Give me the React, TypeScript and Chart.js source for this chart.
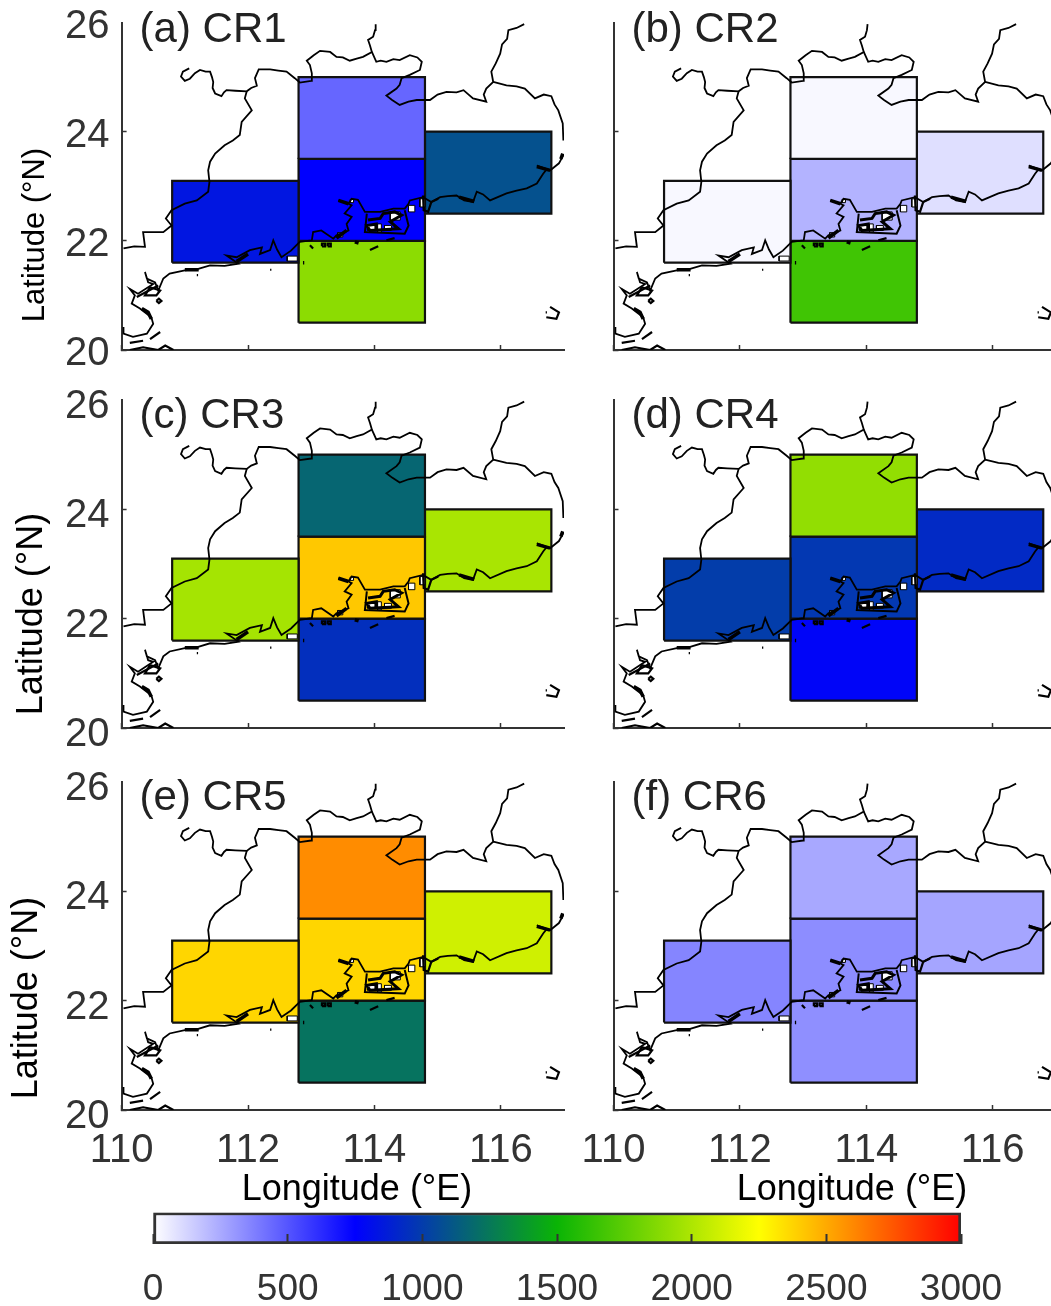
import React, { useEffect, useRef } from "react";
import { Chart, registerables } from "chart.js";

Chart.register(...registerables);

// ---------- data ----------
const LON_TICKS = [110, 112, 114, 116];
const LAT_TICKS = [20, 22, 24, 26];
const CBAR_TICKS = [0, 500, 1000, 1500, 2000, 2500, 3000];

// regions: west, central-north, central, central-south, east
const REGION_LON_MIN = [110.8, 112.8, 112.8, 112.8, 114.8];
const REGION_LON_MAX = [112.8, 114.8, 114.8, 114.8, 116.8];
const REGION_LAT_MIN = [21.6, 23.5, 22.0, 20.5, 22.5];
const REGION_LAT_MAX = [23.1, 25.0, 23.5, 22.0, 24.0];

const CR1 = [840, 450, 750, 1898, 1088];
const CR2 = [20, 20, 225, 1665, 94];
const CR3 = [1975, 1174, 2412, 947, 1987];
const CR4 = [1006, 1916, 982, 770, 923];
const CR5 = [2372, 2588, 2370, 1230, 2103];
const CR6 = [358, 255, 335, 330, 265];
const PANEL_TITLES = ["(a) CR1", "(b) CR2", "(c) CR3", "(d) CR4", "(e) CR5", "(f) CR6"];
const PANEL_VALUES = [CR1, CR2, CR3, CR4, CR5, CR6];

const CMAP_VALUES = [0, 750, 1500, 2250, 3000];
const CMAP_COLORS = [
  [255, 255, 255],
  [0, 0, 255],
  [10, 180, 5],
  [255, 255, 0],
  [255, 0, 0],
];

type P = [number, number];
const BOUNDARY_NW: P[] = [[111.07,25.16],[110.97,25.10],[110.94,25.01],[111.00,24.93],[111.08,24.97],[111.16,25.07],[111.24,25.13],[111.33,25.10],[111.40,25.10],[111.43,25.00],[111.45,24.91],[111.44,24.80],[111.48,24.70],[111.58,24.65],[111.62,24.72],[111.66,24.76],[111.80,24.75],[111.98,24.74],[112.05,24.80],[112.14,24.84],[112.11,24.98],[112.17,25.14],[112.35,25.14],[112.48,25.12],[112.61,25.10],[112.74,24.98],[112.82,24.90],[113.00,24.93],[113.01,25.07],[112.98,25.22],[112.93,25.30],[113.04,25.40],[113.14,25.48],[113.30,25.46],[113.40,25.37],[113.50,25.36],[113.61,25.30],[113.72,25.34],[113.82,25.37],[113.96,25.46],[113.93,25.58],[113.90,25.68],[113.98,25.74],[114.01,25.86],[114.02,25.97]];
const BOUNDARY_N: P[] = [[113.96,25.46],[114.03,25.28],[114.10,25.30],[114.19,25.28],[114.30,25.33],[114.40,25.31],[114.56,25.40],[114.68,25.36],[114.75,25.28],[114.72,25.13],[114.56,25.04],[114.43,24.98],[114.40,24.86],[114.35,24.79],[114.19,24.66],[114.28,24.58],[114.40,24.49],[114.54,24.55],[114.67,24.58],[114.88,24.58],[115.00,24.68],[115.14,24.73],[115.30,24.72],[115.41,24.76],[115.56,24.61],[115.77,24.55],[115.73,24.68],[115.77,24.79],[115.88,24.91],[115.85,25.10],[115.92,25.25],[115.99,25.43],[116.02,25.60],[116.10,25.70],[116.12,25.86],[116.25,25.90],[116.37,25.97]];
const BOUNDARY_NE: P[] = [[115.88,24.91],[116.09,24.85],[116.25,24.83],[116.38,24.79],[116.54,24.61],[116.68,24.68],[116.80,24.65],[116.85,24.50],[116.91,24.39],[116.98,24.15],[116.99,23.84]];
const BOUNDARY_W: P[] = [[111.98,24.74],[111.95,24.61],[112.06,24.39],[111.90,24.18],[111.87,23.94],[111.76,23.84],[111.63,23.75],[111.48,23.60],[111.40,23.45],[111.37,23.29],[111.39,23.08],[111.37,22.90],[111.19,22.74],[111.00,22.68],[110.79,22.56],[110.70,22.41],[110.79,22.28],[110.66,22.16],[110.55,22.16],[110.34,22.16],[110.37,21.89],[110.20,21.90],[110.03,21.86]];
const COAST: P[] = [[116.99,23.57],[116.92,23.42],[116.78,23.29],[116.57,23.38],[116.72,23.30],[116.67,23.23],[116.57,23.05],[116.41,22.96],[116.25,22.92],[116.09,22.87],[115.83,22.74],[115.72,22.85],[115.62,22.90],[115.56,22.71],[115.42,22.74],[115.30,22.83],[115.16,22.82],[115.04,22.80],[114.90,22.71],[114.77,22.80],[114.56,22.74],[114.54,22.68],[114.48,22.59],[114.30,22.59],[114.09,22.53],[113.85,22.53],[113.74,22.75],[113.64,22.77],[113.59,22.68],[113.43,22.74],[113.59,22.68],[113.64,22.65],[113.53,22.50],[113.64,22.44],[113.56,22.31],[113.59,22.19],[113.40,22.10],[113.35,22.04],[113.16,22.19],[113.03,22.16],[113.01,22.01],[112.82,21.98],[112.68,21.82],[112.53,21.70],[112.46,21.84],[112.40,22.01],[112.35,21.83],[112.19,21.76],[112.22,21.88],[112.03,21.83],[111.82,21.70],[111.66,21.73],[111.85,21.58],[111.63,21.54],[111.40,21.55],[111.20,21.48],[111.00,21.46],[110.76,21.40],[110.66,21.31],[110.58,21.09],[110.53,21.24],[110.40,21.31],[110.37,21.43],[110.42,21.24],[110.50,21.21],[110.26,21.03],[110.13,21.12],[110.21,21.00],[110.16,20.85],[110.29,20.76],[110.47,20.60],[110.50,20.48],[110.40,20.30],[110.18,20.24],[110.03,20.30],[110.03,20.42]];
const PRD_LOOP: P[] = [[113.88,22.50],[113.85,22.16],[114.48,22.13],[114.54,22.28],[114.48,22.56]];
const PRD_HATCH: P[] = [[113.90,22.38],[114.09,22.41],[114.14,22.50],[114.32,22.53],[114.43,22.47],[114.25,22.35],[114.38,22.22],[113.93,22.19],[113.88,22.28],[114.03,22.31],[114.03,22.18]];
const THICK_COAST: P[][] = [
  [[111.00,21.47],[111.22,21.47]],
  [[113.43,22.74],[113.59,22.68]],
  [[113.40,22.05],[113.56,22.19]],
  [[116.57,23.36],[116.78,23.29]],
  [[116.95,23.50],[116.98,23.60]],
  [[115.34,22.80],[115.58,22.72]],
  [[110.32,20.76],[110.42,20.69],[110.47,20.57]],
  [[111.82,21.62],[112.00,21.76]],
  [[113.69,21.98],[113.75,21.96]],
  [[112.87,21.60],[112.89,21.60]],
];
const ISLANDS: P[][] = [
  [[113.93,21.83],[114.06,21.90]],
  [[113.17,21.90],[113.22,21.90],[113.22,21.95],[113.17,21.95],[113.17,21.90]],
  [[113.26,21.90],[113.31,21.90],[113.31,21.95],[113.26,21.95],[113.26,21.90]],
  [[114.19,22.01],[114.32,22.05]],
  [[112.98,21.92],[113.03,21.86]],
  [[114.77,22.83],[114.78,22.56],[114.85,22.53],[114.90,22.71],[115.01,22.77]],
  [[111.19,21.37],[111.21,21.37]],
  [[112.35,21.47],[112.37,21.47]],
  [[110.13,20.13],[110.34,20.17]],
  [[110.45,20.20],[110.61,20.33]],
  [[110.13,20.00],[110.34,20.05],[110.58,20.00],[110.69,20.08],[110.82,20.00]],
  [[110.55,20.90],[110.59,20.94],[110.63,20.90],[110.59,20.86],[110.55,20.90]],
  [[110.24,20.97],[110.58,21.18]],
  [[110.45,21.15],[110.61,21.09],[110.55,21.00],[110.37,21.00],[110.45,21.15]],
  [[116.78,20.79],[116.92,20.69],[116.88,20.57],[116.72,20.60]],
  [[116.71,20.69],[116.73,20.69]],
];
const WHITE_PATCHES: P[][] = [
  [[114.05,22.16],[114.11,22.16],[114.11,22.31],[114.05,22.31]],
  [[113.89,22.19],[114.01,22.19],[114.01,22.28],[113.89,22.28]],
  [[114.16,22.19],[114.27,22.19],[114.27,22.28],[114.16,22.28]],
  [[114.25,22.38],[114.41,22.38],[114.41,22.53],[114.25,22.53]],
  [[114.54,22.53],[114.64,22.53],[114.64,22.65],[114.54,22.65]],
  [[114.72,22.62],[114.80,22.62],[114.80,22.77],[114.72,22.77]],
  [[113.42,22.07],[113.50,22.07],[113.50,22.15],[113.42,22.15]],
  [[112.62,21.63],[112.78,21.63],[112.78,21.72],[112.62,21.72]],
  [[113.62,22.70],[113.67,22.70],[113.67,22.76],[113.62,22.76]],
];

// ---------- helpers ----------
function colorFor(v: number) {
  let i = 0;
  while (i < CMAP_VALUES.length - 2 && v > CMAP_VALUES[i + 1]) i++;
  const t = (v - CMAP_VALUES[i]) / (CMAP_VALUES[i + 1] - CMAP_VALUES[i]);
  const c = CMAP_COLORS[i].map((a, k) => Math.round(a + (CMAP_COLORS[i + 1][k] - a) * t));
  return `rgb(${c[0]},${c[1]},${c[2]})`;
}
const toPts = (a: P[]) => a.map(([x, y]) => ({ x, y }));
const FONT = '"Liberation Sans", Arial, sans-serif';
const AXIS = "#333333";
const noPad = (s: any) => {
  s.paddingLeft = 0;
  s.paddingRight = 0;
  s.paddingTop = 0;
  s.paddingBottom = 0;
};

const textPlugin = (items: any[], ox: number, oy: number) => ({
  id: "panelText",
  afterDraw(chart: any) {
    const ctx = chart.ctx;
    for (const t of items) {
      ctx.save();
      ctx.font = `${t.size}px ${FONT}`;
      ctx.fillStyle = t.color || "#222222";
      ctx.textAlign = t.align || "center";
      ctx.textBaseline = "alphabetic";
      ctx.translate(t.x - ox, t.y - oy);
      if (t.rot) ctx.rotate(t.rot);
      ctx.fillText(t.text, 0, 0);
      ctx.restore();
    }
  },
});

// layout of panels (page pixels)
const COLS = [
  { canvasLeft: 0, canvasWidth: 575, plotLeft: 121.6 },
  { canvasLeft: 575, canvasWidth: 490, plotLeft: 613.5 },
];
const ROWS = [
  { canvasTop: 0, plotTop: 22.5, plotBottom: 350, canvasBottom: 372, off: 4, titleY: 42, latSize: 31, latX: 44, latY: 235 },
  { canvasTop: 372, plotTop: 400, plotBottom: 728, canvasBottom: 750, off: 7, titleY: 428, latSize: 36, latX: 42, latY: 614 },
  { canvasTop: 750, plotTop: 782, plotBottom: 1110, canvasBottom: 1212, off: 7, titleY: 810, latSize: 36, latX: 37, latY: 998 },
];
const PLOT_W = 442.4;

function Panel({ idx }: { idx: number }) {
  const ref = useRef<HTMLCanvasElement>(null);
  const col = COLS[idx % 2];
  const rowIdx = Math.floor(idx / 2);
  const row = ROWS[rowIdx];
  const height = row.canvasBottom - row.canvasTop;
  useEffect(() => {
    const values = PANEL_VALUES[idx];
    const rects = values.map((v, i) => {
      const x0 = REGION_LON_MIN[i], x1 = REGION_LON_MAX[i], y0 = REGION_LAT_MIN[i], y1 = REGION_LAT_MAX[i];
      return {
        label: `Region ${i + 1}`,
        data: toPts([[x0, y0], [x1, y0], [x1, y1], [x0, y1], [x0, y0]]),
        showLine: true,
        fill: "shape",
        backgroundColor: colorFor(v),
        borderColor: "#111111",
        borderWidth: 2.2,
        pointRadius: 0,
        order: 10,
      };
    });
    const line = (a: P[], w = 1.8) => ({
      data: toPts(a),
      showLine: true,
      fill: false,
      borderColor: "#000000",
      borderWidth: w,
      pointRadius: 0,
      order: 2,
    });
    const patches = WHITE_PATCHES.map((a) => ({
      data: toPts([...a, a[0]]),
      showLine: true,
      fill: "shape",
      backgroundColor: "#ffffff",
      borderColor: "#000000",
      borderWidth: 1,
      pointRadius: 0,
      order: 5,
    }));
    const datasets: any[] = [
      ...rects,
      ...patches,
      line(BOUNDARY_NW),
      line(BOUNDARY_N),
      line(BOUNDARY_NE),
      line(BOUNDARY_W),
      line(COAST),
      line(PRD_LOOP, 2),
      line(PRD_HATCH, 3),
      ...THICK_COAST.map((a) => line(a, 3.5)),
      ...ISLANDS.map((a) => line(a, 2.2)),
    ];
    const left = col.plotLeft - col.canvasLeft;
    const top = row.plotTop - row.canvasTop;
    const plotH = row.plotBottom - row.plotTop;
    const showLatLabels = idx % 2 === 0;
    const showLonLabels = rowIdx === 2;
    const items: any[] = [
      { text: PANEL_TITLES[idx], x: col.plotLeft + 18, y: row.titleY, size: 42, align: "left" },
    ];
    if (showLatLabels)
      items.push({ text: "Latitude (°N)", x: row.latX, y: row.latY, size: row.latSize, rot: -Math.PI / 2, color: "#000000" });
    if (showLonLabels)
      items.push({ text: "Longitude (°E)", x: idx % 2 === 0 ? 357 : 852, y: 1200, size: 36, color: "#000000" });
    const chart = new Chart(ref.current as HTMLCanvasElement, {
      type: "scatter",
      data: { datasets },
      plugins: [textPlugin(items, col.canvasLeft, row.canvasTop)],
      options: {
        animation: false,
        responsive: false,
        devicePixelRatio: 1,
        layout: { autoPadding: false, padding: { top, left: 0, right: col.canvasWidth - left - PLOT_W, bottom: 0 } },
        plugins: { legend: { display: false }, tooltip: { enabled: false } },
        scales: {
          x: {
            type: "linear",
            min: 110,
            max: 117,
            afterBuildTicks: (s: any) => { s.ticks = LON_TICKS.map((value) => ({ value })); },
            afterFit: (s: any) => { s.height = height - top - plotH; noPad(s); },
            border: { color: AXIS, width: 2 },
            grid: { drawOnChartArea: false, tickLength: -5, tickColor: AXIS, tickWidth: 1.5 },
            ticks: { display: showLonLabels, padding: 22, autoSkip: false, maxRotation: 0, minRotation: 0, color: "#333333", font: { family: FONT, size: 40 }, callback: (v: any) => String(v) },
          },
          y: {
            type: "linear",
            min: 20,
            max: 26,
            afterBuildTicks: (s: any) => { s.ticks = LAT_TICKS.map((value) => ({ value })); },
            afterFit: (s: any) => { s.width = left; noPad(s); },
            border: { color: AXIS, width: 2 },
            grid: {
              drawOnChartArea: false,
              tickLength: -5,
              tickWidth: 1.5,
              tickColor: (c: any) => (c.tick && c.tick.value === 26 ? "transparent" : AXIS),
            },
            ticks: { display: showLatLabels, padding: 17, autoSkip: false, labelOffset: row.off, color: "#333333", font: { family: FONT, size: 40 }, callback: (v: any) => String(v) } as any,
          },
        },
      },
    } as any);
    return () => chart.destroy();
  }, [idx]);
  return (
    <canvas
      ref={ref}
      width={col.canvasWidth}
      height={height}
      style={{ position: "absolute", left: col.canvasLeft, top: row.canvasTop, width: col.canvasWidth, height }}
    />
  );
}

const CB = { canvasTop: 1205, canvasH: 101, left: 153, right: 961, top: 1212.5, bottom: 1244 };

function ColorBar() {
  const ref = useRef<HTMLCanvasElement>(null);
  useEffect(() => {
    const chart = new Chart(ref.current as HTMLCanvasElement, {
      type: "bar",
      data: {
        labels: ["colour scale"],
        datasets: [
          {
            data: [[CBAR_TICKS[0], CBAR_TICKS[CBAR_TICKS.length - 1]]],
            barPercentage: 1,
            categoryPercentage: 1,
            borderColor: AXIS,
            borderWidth: 3,
            borderSkipped: false,
            backgroundColor: (c: any) => {
              const { ctx, scales, chartArea } = c.chart;
              if (!chartArea) return "#000";
              const x0 = scales.x.getPixelForValue(0);
              const x1 = scales.x.getPixelForValue(3000);
              const g = ctx.createLinearGradient(x0, 0, x1, 0);
              CMAP_VALUES.forEach((v) => g.addColorStop(v / 3000, colorFor(v)));
              return g;
            },
          },
        ],
      },
      options: {
        indexAxis: "y",
        animation: false,
        responsive: false,
        devicePixelRatio: 1,
        layout: { autoPadding: false, padding: { left: CB.left, right: 1051 - CB.right, top: CB.top - CB.canvasTop, bottom: 0 } },
        plugins: { legend: { display: false }, tooltip: { enabled: false } },
        scales: {
          y: { display: false },
          x: {
            type: "linear",
            min: 0,
            max: 3000,
            afterBuildTicks: (s: any) => { s.ticks = CBAR_TICKS.map((value) => ({ value })); },
            afterFit: (s: any) => { s.height = CB.canvasTop + CB.canvasH - CB.bottom; noPad(s); },
            border: { display: false },
            grid: { drawOnChartArea: false, tickLength: -10, tickWidth: 2, tickColor: AXIS, z: 1 },
            ticks: { padding: 34, autoSkip: false, maxRotation: 0, minRotation: 0, color: "#333333", font: { family: FONT, size: 37 }, callback: (v: any) => String(v) },
          },
        },
      },
    } as any);
    return () => chart.destroy();
  }, []);
  return (
    <canvas
      ref={ref}
      width={1051}
      height={CB.canvasH}
      style={{ position: "absolute", left: 0, top: CB.canvasTop, width: 1051, height: CB.canvasH }}
    />
  );
}

export default function App() {
  return (
    <div style={{ position: "absolute", left: 0, top: 0, width: 1051, height: 1306, overflow: "hidden", background: "#fff" }}>
      {PANEL_VALUES.map((_, i) => (
        <Panel key={i} idx={i} />
      ))}
      <ColorBar />
    </div>
  );
}
